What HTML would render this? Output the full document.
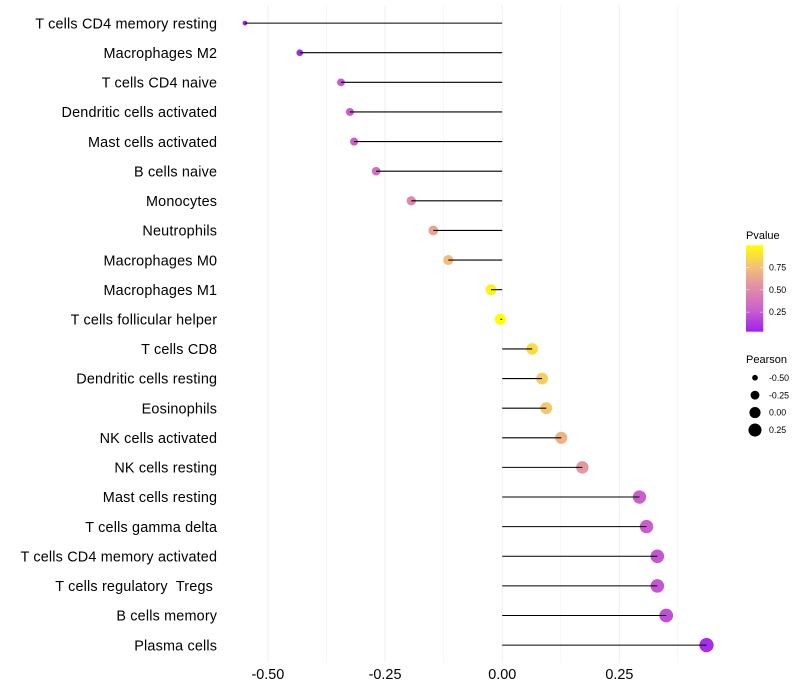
<!DOCTYPE html>
<html>
<head>
<meta charset="utf-8">
<style>
html,body{margin:0;padding:0;background:#fff;}
svg{display:block;font-family:"Liberation Sans",sans-serif;}
text{white-space:pre;}
</style>
</head>
<body>
<svg id="chart" xmlns="http://www.w3.org/2000/svg" width="800" height="700" viewBox="0 0 800 700">
  <defs>
    <linearGradient id="pgrad" x1="0" y1="1" x2="0" y2="0">
      <stop offset="0" stop-color="#a020f0"/>
      <stop offset="0.25" stop-color="#c860cc"/>
      <stop offset="0.5" stop-color="#e08ca8"/>
      <stop offset="0.75" stop-color="#f3c078"/>
      <stop offset="1" stop-color="#ffff00"/>
    </linearGradient>
  </defs>
  <g id="grid"></g>
  <g id="marks"></g>
  <g id="ylabels"></g>
  <g id="xlabels"></g>
  <g id="legend-color">
    <text x="746" y="239" font-size="11" fill="#000">Pvalue</text>
    <rect x="746" y="245.3" width="17.3" height="86.4" fill="url(#pgrad)"/>
  </g>
  <g id="legend-size">
    <text x="746" y="363" font-size="11" fill="#000">Pearson</text>
  </g>
</svg>
<script>
const categories = ["T cells CD4 memory resting","Macrophages M2","T cells CD4 naive","Dendritic cells activated","Mast cells activated","B cells naive","Monocytes","Neutrophils","Macrophages M0","Macrophages M1","T cells follicular helper","T cells CD8","Dendritic cells resting","Eosinophils","NK cells activated","NK cells resting","Mast cells resting","T cells gamma delta","T cells CD4 memory activated","T cells regulatory  Tregs ","B cells memory","Plasma cells"];
const pearson = [-0.549,-0.432,-0.344,-0.325,-0.316,-0.269,-0.194,-0.147,-0.115,-0.024,-0.004,0.064,0.085,0.094,0.126,0.171,0.293,0.308,0.331,0.331,0.350,0.436];
const pvalues = [0.03,0.07,0.25,0.27,0.27,0.36,0.50,0.63,0.74,0.95,1.0,0.87,0.81,0.78,0.69,0.57,0.27,0.27,0.24,0.24,0.21,0.08];
const xMajorTicks = [-0.5,-0.25,0,0.25];
const xGridTicks = [-0.5,-0.375,-0.25,-0.125,0,0.125,0.25,0.375];
const xTickLabels = ["-0.50","-0.25","0.00","0.25"];
const pvalueTicks = [0.25,0.5,0.75];
const pvalueTickLabels = ["0.25","0.50","0.75"];
const pearsonKeys = [-0.5,-0.25,0,0.25];
const pearsonKeyLabels = ["-0.50","-0.25","0.00","0.25"];
const gradientColors = [[160,32,240],[200,96,204],[224,140,168],[243,192,120],[255,255,0]];

const NS = "http://www.w3.org/2000/svg";
function mk(parent, tag, attrs){
  const el = document.createElementNS(NS, tag);
  for (const k in attrs) el.setAttribute(k, attrs[k]);
  parent.appendChild(el);
  return el;
}
function xScale(v){ return 502.2 + v * 468.6; }
function yScale(i){ return 23.1 + i * 29.62; }
function rScale(v){ return Math.sqrt(Math.max(4, 31 + 46 * v)); }
function pToUnit(p){ return (p - 0.03) / 0.97; }
function pY(p){ return 331.7 - pToUnit(p) * 86.4; }
function colorOf(p){
  const t = Math.min(1, Math.max(0, pToUnit(p))) * (gradientColors.length - 1);
  const i = Math.min(gradientColors.length - 2, Math.floor(t));
  const f = t - i;
  const a = gradientColors[i], b = gradientColors[i + 1];
  return "rgb(" + [0,1,2].map(function(c){ return Math.round(a[c] + (b[c] - a[c]) * f); }).join(",") + ")";
}

const grid = document.getElementById("grid");
xGridTicks.forEach(function(t){
  const major = xMajorTicks.includes(t);
  const l = mk(grid, "line", {x1:xScale(t), x2:xScale(t), y1:5.2, y2:662.8, stroke:major ? "#f0f0f0" : "#f3f3f3", "stroke-width":major ? 1.07 : 0.7});
  
  
});

const marks = document.getElementById("marks");
categories.forEach(function(c, i){
  const dot = mk(marks, "circle", {cx:xScale(pearson[i]), cy:yScale(i), r:rScale(pearson[i]), fill:colorOf(pvalues[i])});
  
  
  const seg = mk(marks, "line", {x1:xScale(0), x2:xScale(pearson[i]), y1:yScale(i), y2:yScale(i), stroke:"#000", "stroke-width":1.07});
  
  
});

const ylabels = document.getElementById("ylabels");
categories.forEach(function(c, i){
  const t = mk(ylabels, "text", {x:217.2, y:yScale(i) + 5.2, "text-anchor":"end", "font-size":14.4, "letter-spacing":0.18, fill:"#000"});
  t.textContent = c;
  
  
});

const xlabels = document.getElementById("xlabels");
xMajorTicks.forEach(function(v, i){
  const t = mk(xlabels, "text", {x:xScale(v), y:679, "text-anchor":"middle", "font-size":14.4, fill:"#000"});
  t.textContent = xTickLabels[i];
  
  
});

const lc = document.getElementById("legend-color");
pvalueTicks.forEach(function(p, i){
  const y = pY(p);
  const a = mk(lc, "line", {x1:746, x2:749.5, y1:y, y2:y, stroke:"#fff", "stroke-width":0.6, "stroke-opacity":0.8});
  
  
  const b = mk(lc, "line", {x1:759.8, x2:763.3, y1:y, y2:y, stroke:"#fff", "stroke-width":0.6, "stroke-opacity":0.8});
  
  
  const t = mk(lc, "text", {x:769, y:y + 3.1, "font-size":8.8, fill:"#000"});
  t.textContent = pvalueTickLabels[i];
  
  
});

const ls = document.getElementById("legend-size");
pearsonKeys.forEach(function(v, i){
  const y = 377.7 + i * 17.45;
  const d = mk(ls, "circle", {cx:755, cy:y, r:rScale(v), fill:"#000"});
  
  
  const t = mk(ls, "text", {x:769, y:y + 3.1, "font-size":8.8, fill:"#000"});
  t.textContent = pearsonKeyLabels[i];
  
  
});
</script>
</body>
</html>
